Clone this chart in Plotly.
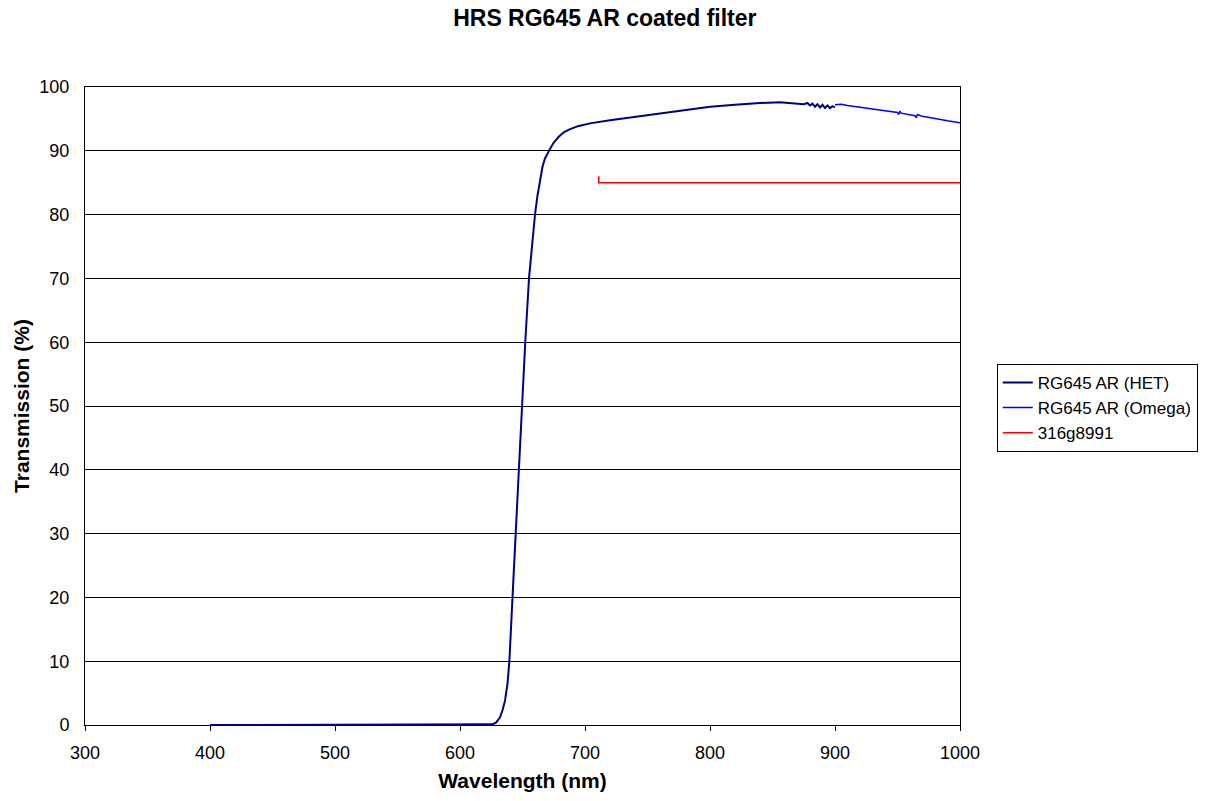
import plotly.graph_objects as go

title = "HRS RG645 AR coated filter"

het_wl = [400, 500, 600, 620, 626, 629, 632, 634, 636, 638, 639.5, 642, 644.5, 647,
          649.3, 652.2, 655.2, 658, 660, 662, 664, 666, 668, 670, 672, 675, 679, 683,
          688, 695, 704, 720, 750, 780, 800, 820, 840, 856, 866, 870, 875, 878, 880,
          882, 884, 886, 888, 890, 892, 894, 896, 898, 900]
het_t = [0, 0, 0, 0.02, 0.1, 0.4, 1.2, 2.3, 3.8, 6.5, 10, 20, 30, 40,
         50, 60, 70, 76, 80, 83, 85.5, 87.5, 88.8, 89.6, 90.3, 91.3, 92.2, 92.9,
         93.4, 93.9, 94.3, 94.8, 95.6, 96.4, 96.9, 97.2, 97.5, 97.6, 97.5, 97.4, 97.3, 97.5, 97.1,
         97.4, 96.9, 97.3, 96.8, 97.2, 96.7, 97.1, 96.7, 97.0, 96.8]

omega_wl = [900, 905, 910, 920, 930, 940, 950, 951, 952, 953, 960, 964, 965, 966,
            970, 980, 990, 1000]
omega_t = [97.2, 97.3, 97.1, 96.8, 96.5, 96.2, 96.0, 95.7, 96.2, 95.9, 95.7, 95.5, 95.2, 95.7,
           95.4, 95.0, 94.7, 94.4]

spec_wl = [711, 711, 1000]
spec_t = [86, 85, 85]

x_ticks = [300, 400, 500, 600, 700, 800, 900, 1000]
y_ticks = [0, 10, 20, 30, 40, 50, 60, 70, 80, 90, 100]

fig = go.Figure()
fig.add_trace(go.Scatter(x=het_wl, y=het_t, mode="lines", name="RG645 AR (HET)",
                         line=dict(color="#000080", width=2)))
fig.add_trace(go.Scatter(x=omega_wl, y=omega_t, mode="lines", name="RG645 AR (Omega)",
                         line=dict(color="#0000FF", width=1.5)))
fig.add_trace(go.Scatter(x=spec_wl, y=spec_t, mode="lines", name="316g8991",
                         line=dict(color="#FF0000", width=1.5)))

font = "Liberation Sans, Arial, sans-serif"
fig.update_layout(
    width=1217, height=801,
    margin=dict(l=85, r=257, t=87, b=76, autoexpand=False),
    paper_bgcolor="white", plot_bgcolor="white",
    font=dict(family=font, size=18, color="black"),
    title=dict(text="<b>" + title + "</b>", x=0.497, xanchor="center", y=0.977, yanchor="middle",
               font=dict(size=23)),
    showlegend=True,
    legend=dict(x=1.042, y=0.566, xanchor="left", yanchor="top",
                bordercolor="black", borderwidth=1, bgcolor="white",
                font=dict(size=17), tracegroupgap=0, itemwidth=30),
    xaxis=dict(range=[300, 1000], tickvals=x_ticks, automargin=False,
               showgrid=False, showline=True, linecolor="black", linewidth=1, mirror=True,
               ticks="outside", ticklen=5, tickcolor="black", zeroline=False,
               ticklabelstandoff=6,
               title=dict(text="<b>Wavelength (nm)</b>", font=dict(size=21), standoff=11)),
    yaxis=dict(range=[0, 100], tickvals=y_ticks, automargin=False,
               showgrid=True, gridcolor="black", gridwidth=1,
               showline=True, linecolor="black", linewidth=1, mirror=True,
               ticks="", zeroline=False, ticklabelstandoff=11,
               title=dict(text="<b>Transmission (%)</b>", font=dict(size=21), standoff=4)),
)

fig.write_html("out.html")
